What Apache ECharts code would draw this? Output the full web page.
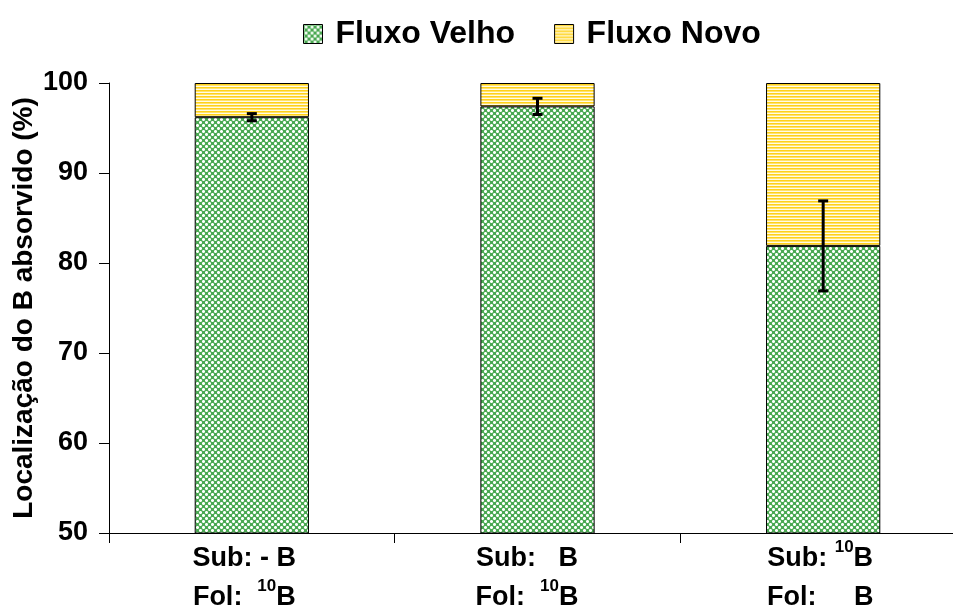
<!DOCTYPE html>
<html>
<head>
<meta charset="utf-8">
<script src="https://cdn.jsdelivr.net/npm/echarts@6/dist/echarts.min.js"></script>
<style>
  html, body { margin: 0; padding: 0; background: #fff; overflow: hidden; }
  #chart { width: 953px; height: 605px; }
</style>
</head>
<body>
<div id="chart"></div>
<script>
// Treatments (substrate / foliar boron source)
const categories = ['Sub: - B\nFol: 10B', 'Sub: B\nFol: 10B', 'Sub: 10B\nFol: B'];
// Share of absorbed B found in the old flush (%)
const fluxoVelho = [96.2, 97.4, 81.9];
// Share of absorbed B found in the new flush (%), complement to 100
const fluxoNovo = [3.8, 2.6, 18.1];
// Error bar half-width on the old-flush share
const erroVelho = [0.4, 0.9, 5.0];
const yTicks = [50, 60, 70, 80, 90, 100];

const FONT = '"Liberation Sans", Arial, sans-serif';

// Green cross-hatch fill: white plus marks on a green lattice
function greenPattern() {
  const c = document.createElement('canvas');
  c.width = 6; c.height = 6;
  const g = c.getContext('2d');
  g.fillStyle = '#4aa852';
  g.fillRect(0, 0, 6, 6);
  const px = (x, y, col) => { g.fillStyle = col; g.fillRect(x, y, 1, 1); };
  const W = '#ffffff', L = '#b3e0b4';
  [[2,1],[1,2],[2,2],[3,2],[2,3]].forEach(p => px(p[0], p[1], W));
  [[5,4],[4,5],[5,5],[0,5],[5,0]].forEach(p => px(p[0], p[1], W));
  [[1,1],[3,3],[4,4],[0,0],[1,3],[3,1],[4,0],[0,4]].forEach(p => px(p[0], p[1], L));
  return { image: c, repeat: 'repeat' };
}

// Yellow horizontal stripe fill
function yellowPattern() {
  const c = document.createElement('canvas');
  c.width = 4; c.height = 3;
  const g = c.getContext('2d');
  g.fillStyle = '#ffd11a'; g.fillRect(0, 0, 4, 1);
  g.fillStyle = '#ffe36b'; g.fillRect(0, 1, 4, 1);
  g.fillStyle = '#fffbe6'; g.fillRect(0, 2, 4, 1);
  return { image: c, repeat: 'repeat' };
}

const base = { fontSize: 27, fontWeight: 'bold', fontFamily: FONT, color: '#000', lineHeight: 39 };
const sup = { fontSize: 17, fontWeight: 'bold', fontFamily: FONT, color: '#000', lineHeight: 16, verticalAlign: 'top' };
const labelRich = {
  n: base,
  s: sup,
  pad15: { width: 0, padding: [0, 15, 0, 0] },
  pad21: { width: 0, padding: [0, 21, 0, 0] },
  pad6: { width: 0, padding: [0, 6, 0, 0] }
};
const labelText = {
  'Sub: - B\nFol: 10B': '{n|Sub: - B}{pad15|}\n{n|Fol:  }{s|10}{n|B}{pad15|}',
  'Sub: B\nFol: 10B': '{n|Sub:   B}{pad21|}\n{n|Fol:  }{s|10}{n|B}{pad21|}',
  'Sub: 10B\nFol: B': '{n|Sub: }{s|10}{n|B}{pad6|}\n{n|Fol:     B}{pad6|}'
};

const errData = categories.map((c, i) => [i, fluxoVelho[i] - erroVelho[i], fluxoVelho[i] + erroVelho[i]]);

const chart = echarts.init(document.getElementById('chart'));
chart.setOption({
  animation: false,
  backgroundColor: '#fff',
  textStyle: { fontFamily: FONT },
  legend: {
    left: 303, top: 18, padding: 0,
    itemWidth: 19, itemHeight: 19, itemGap: 39,
    icon: 'rect',
    itemStyle: { borderColor: '#000', borderWidth: 1 },
    textStyle: { fontSize: 32, fontWeight: 'bold', color: '#000', fontFamily: FONT, padding: [0, 0, 0, 8] },
    data: ['Fluxo Velho', 'Fluxo Novo']
  },
  grid: { left: 109, top: 83, width: 857, height: 450, outerBoundsMode: 'none', containLabel: false },
  xAxis: {
    type: 'category',
    data: categories,
    axisLine: { lineStyle: { color: '#000', width: 1 } },
    axisTick: { show: true, length: 10, lineStyle: { color: '#000' } },
    axisLabel: {
      margin: 6,
      interval: 0,
      formatter: v => labelText[v],
      rich: labelRich
    }
  },
  yAxis: {
    type: 'value',
    min: 50, max: 100, interval: 10,
    name: 'Localização do B absorvido (%)',
    nameLocation: 'middle',
    nameGap: 71,
    nameMoveOverlap: false,
    nameTextStyle: { fontSize: 28, fontWeight: 'bold', color: '#000', fontFamily: FONT },
    splitLine: { show: false },
    axisLine: { show: true, lineStyle: { color: '#000', width: 1 } },
    axisTick: { show: true, length: 10, lineStyle: { color: '#000' } },
    axisLabel: {
      margin: 21,
      fontSize: 27, fontWeight: 'bold', color: '#000', fontFamily: FONT,
      formatter: v => yTicks.includes(v) ? String(v) : ''
    }
  },
  series: [
    {
      name: 'Fluxo Velho', type: 'bar', stack: 'total', barWidth: '40%',
      data: fluxoVelho,
      itemStyle: { color: greenPattern(), borderColor: '#000', borderWidth: 1 }
    },
    {
      name: 'Fluxo Novo', type: 'bar', stack: 'total', barWidth: '40%',
      data: fluxoNovo,
      itemStyle: { color: yellowPattern(), borderColor: '#000', borderWidth: 1 }
    },
    {
      name: 'erro', type: 'custom',
      data: errData,
      encode: { x: 0, y: [1, 2] },
      z: 10,
      renderItem: function (params, api) {
        const x = api.value(0);
        const lo = api.coord([x, api.value(1)]);
        const hi = api.coord([x, api.value(2)]);
        const hw = 5;
        const st = { stroke: '#000', lineWidth: 3 };
        return {
          type: 'group',
          children: [
            { type: 'line', shape: { x1: lo[0], y1: lo[1], x2: hi[0], y2: hi[1] }, style: st },
            { type: 'line', shape: { x1: lo[0] - hw, y1: lo[1], x2: lo[0] + hw, y2: lo[1] }, style: st },
            { type: 'line', shape: { x1: hi[0] - hw, y1: hi[1], x2: hi[0] + hw, y2: hi[1] }, style: st }
          ]
        };
      }
    }
  ]
});
</script>
</body>
</html>
